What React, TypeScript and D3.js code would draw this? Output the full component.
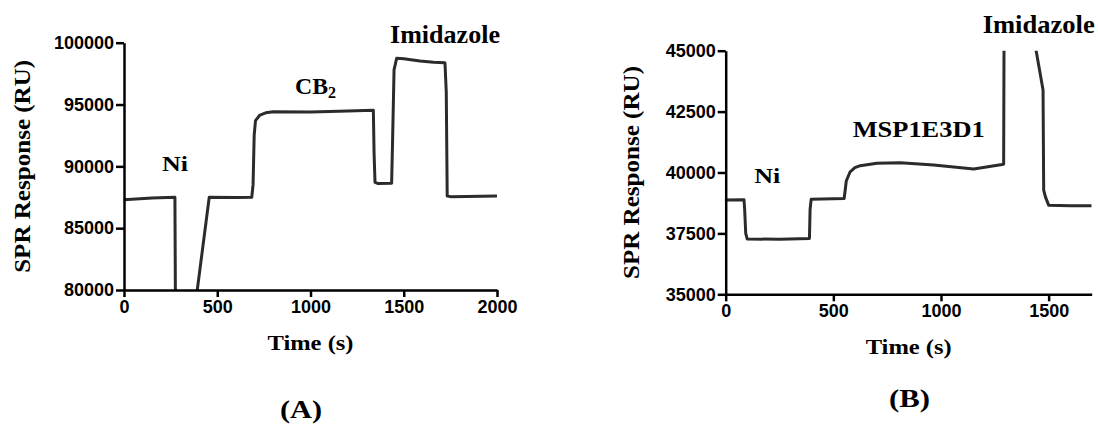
import React, { useEffect, useRef } from "react";
import * as d3 from "d3";

// panel A: Ni / CB2 / imidazole sensorgram
const timeA = [0, 150, 273, 277, 350, 457, 600, 685, 692, 698, 705, 729, 760, 800, 1000, 1200, 1337, 1341, 1346, 1360, 1435, 1440, 1448, 1462, 1500, 1587, 1660, 1721, 1728, 1733, 1750, 2000];
const respA = [87300, 87440, 87497, 75000, 75000, 87500, 87480, 87500, 88500, 92500, 93700, 94150, 94330, 94420, 94400, 94480, 94530, 91000, 88700, 88620, 88630, 92000, 97800, 98740, 98700, 98520, 98420, 98380, 96000, 87600, 87550, 87600];
const xTicksA = [0, 500, 1000, 1500, 2000];
const yTicksA = [80000, 85000, 90000, 95000, 100000];

// panel B: Ni / MSP1E3D1 / imidazole sensorgram
const timeB = [0, 85, 88, 93, 100, 250, 389, 392, 397, 550, 554, 560, 578, 600, 625, 702, 811, 966, 1152, 1284, 1291, 1293, 1422, 1474, 1477, 1485, 1500, 1600, 1700];
const respB = [38870, 38880, 38500, 37500, 37270, 37260, 37290, 38500, 38900, 38930, 39200, 39650, 40030, 40200, 40280, 40380, 40400, 40310, 40140, 40330, 40350, 46000, 46000, 43390, 39280, 39000, 38660, 38630, 38640];
const xTicksB = [0, 500, 1000, 1500];
const yTicksB = [35000, 37500, 40000, 42500, 45000];

const serif = "'Liberation Serif', 'Times New Roman', serif";
const sans = "'Liberation Sans', Arial, sans-serif";

type Label = { text: string; sub?: string; x: number; y: number; len: number; size: number };

function Panel(props: {
  id: string;
  time: number[];
  resp: number[];
  xTicks: number[];
  yTicks: number[];
  xDomain: [number, number];
  yDomain: [number, number];
  left: number;
  right: number;
  top: number;
  bottom: number;
  titleX: number;
  labels: Label[];
}) {
  const xAxisRef = useRef<SVGGElement>(null);
  const yAxisRef = useRef<SVGGElement>(null);
  const { left, right, top, bottom } = props;

  const x = d3.scaleLinear().domain(props.xDomain).range([left, right]);
  const y = d3.scaleLinear().domain(props.yDomain).range([bottom, top]);

  const pts = props.time.map((t, i) => [t, props.resp[i]] as [number, number]);
  const line = d3
    .line<[number, number]>()
    .x((d) => x(d[0]))
    .y((d) => y(d[1]));

  useEffect(() => {
    const gx = d3.select(xAxisRef.current);
    gx.call(
      d3.axisBottom(x).tickValues(props.xTicks).tickSize(7).tickSizeOuter(0).tickPadding(3).tickFormat(d3.format("d"))
    );
    const gy = d3.select(yAxisRef.current);
    gy.call(
      d3.axisLeft(y).tickValues(props.yTicks).tickSize(8).tickSizeOuter(0).tickPadding(2).tickFormat(d3.format("d"))
    );
    [gx, gy].forEach((g) => {
      g.attr("font-size", null).attr("font-family", null);
      g.selectAll("path").attr("stroke", "#000").attr("stroke-width", 2.5);
      g.selectAll("line").attr("stroke", "#000").attr("stroke-width", 2.5);
      g.selectAll("text")
        .attr("fill", "#000")
        .style("font-family", sans)
        .style("font-weight", "bold")
        .style("font-size", "18px");
    });
  });

  const midY = (top + bottom) / 2;
  const midX = (left + right) / 2;

  return (
    <g>
      <defs>
        <clipPath id={"clip" + props.id}>
          <rect x={left} y={top} width={right - left} height={bottom - top} />
        </clipPath>
      </defs>
      <path
        d={line(pts) || ""}
        fill="none"
        stroke="#2b2b2b"
        strokeWidth={3}
        strokeLinejoin="round"
        clipPath={`url(#clip${props.id})`}
      />
      <g ref={xAxisRef} transform={`translate(0,${bottom})`} />
      <g ref={yAxisRef} transform={`translate(${left},0)`} />
      <text
        transform={`translate(${props.titleX},${midY}) rotate(-90)`}
        textAnchor="middle"
        fontFamily={serif}
        fontWeight="bold"
        fontSize={24}
        textLength={213}
        lengthAdjust="spacingAndGlyphs"
      >
        SPR Response (RU)
      </text>
      <text
        x={midX}
        y={bottom + 60}
        textAnchor="middle"
        fontFamily={serif}
        fontWeight="bold"
        fontSize={20}
        textLength={86}
        lengthAdjust="spacingAndGlyphs"
      >
        Time (s)
      </text>
      {props.labels.map((l, i) => (
        <text
          key={i}
          x={l.x}
          y={l.y}
          fontFamily={serif}
          fontWeight="bold"
          fontSize={l.size}
        >
          <tspan textLength={l.len} lengthAdjust="spacingAndGlyphs">{l.text}</tspan>
          {l.sub && (
            <tspan dy={4} fontSize={16}>
              {l.sub}
            </tspan>
          )}
        </text>
      ))}
    </g>
  );
}

export default function App() {
  useEffect(() => {
    document.body.style.margin = "0";
  }, []);

  return (
    <svg width={1098} height={426} style={{ display: "block", background: "#fff" }}>
      <Panel
        id="A"
        time={timeA}
        resp={respA}
        xTicks={xTicksA}
        yTicks={yTicksA}
        xDomain={[0, 2000]}
        yDomain={[80000, 100000]}
        left={124}
        right={497}
        top={42.7}
        bottom={290}
        titleX={30}
        labels={[
          { text: "Ni", x: 162, y: 170.7, len: 26, size: 22 },
          { text: "CB", sub: "2", x: 295, y: 94.3, len: 33, size: 24 },
          { text: "Imidazole", x: 390, y: 43.3, len: 110, size: 25 },
        ]}
      />
      <Panel
        id="B"
        time={timeB}
        resp={respB}
        xTicks={xTicksB}
        yTicks={yTicksB}
        xDomain={[0, 1700]}
        yDomain={[35000, 45000]}
        left={725.7}
        right={1091.7}
        top={50.7}
        bottom={294.3}
        titleX={638.5}
        labels={[
          { text: "Ni", x: 754.3, y: 183.3, len: 26, size: 22 },
          { text: "MSP1E3D1", x: 852.7, y: 137.3, len: 132, size: 24 },
          { text: "Imidazole", x: 982.7, y: 33.3, len: 112, size: 25 },
        ]}
      />
      <text x={301} y={418} textAnchor="middle" fontFamily={serif} fontWeight="bold" fontSize={25} textLength={42} lengthAdjust="spacingAndGlyphs">
        (A)
      </text>
      <text x={909.5} y={406.5} textAnchor="middle" fontFamily={serif} fontWeight="bold" fontSize={25} textLength={41} lengthAdjust="spacingAndGlyphs">
        (B)
      </text>
    </svg>
  );
}
